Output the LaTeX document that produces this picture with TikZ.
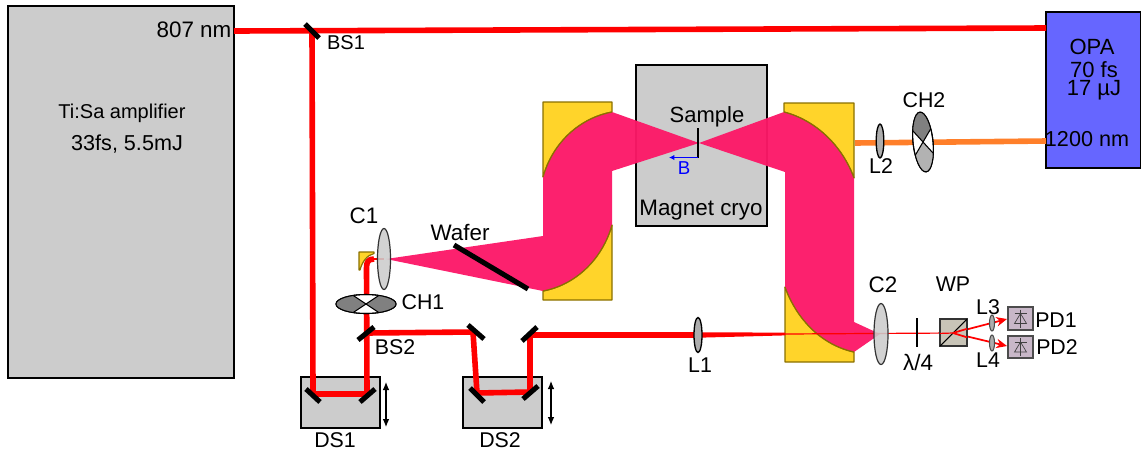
\documentclass[tikz,border=0pt]{standalone}
\usepackage{fontspec}
\setmainfont{Liberation Sans}
\usetikzlibrary{arrows.meta}
\definecolor{pinkb}{HTML}{FC1868}
\definecolor{goldm}{HTML}{FFD42A}
\definecolor{goldb}{HTML}{8A7000}
\definecolor{boxg}{HTML}{CCCCCC}
\definecolor{opab}{HTML}{6666FF}
\definecolor{beamo}{HTML}{FF7F2A}
\definecolor{pdf}{HTML}{C8B7C8}
\definecolor{wpf}{HTML}{C8C4B7}
\tikzset{
  x=0.75pt,y=-0.75pt,
  lbl/.style={font=\fontsize{16}{18}\selectfont,inner sep=0pt,text=black},
  lblb/.style={font=\fontsize{16.8}{18}\selectfont,inner sep=0pt,text=black},
  panel/.style={draw=black,line width=1.2pt,fill=boxg},
  redbeam/.style={draw=red,line width=4.2pt,line join=round},
  thinbeam/.style={draw=red,line width=1.3pt},
  mirrorbar/.style={draw=black,line width=3.8pt},
  parab/.style={draw=goldb,line width=0.9pt,fill=goldm,line join=round},
  lensg/.style={draw=black!80,line width=0.9pt,fill=boxg,fill opacity=.88},
  lenss/.style={draw=black,line width=1pt,fill=black!32},
  pinkfill/.style={fill=pinkb,fill opacity=.96},
  sensor/.style={draw=black!70,line width=1.3pt,fill=pdf},
  stagearrow/.style={draw=black,line width=0.8pt,{Latex[length=6pt,width=5pt]}-{Latex[length=6pt,width=5pt]}},
}
\begin{document}
\begin{tikzpicture}
\useasboundingbox (0,0) rectangle (1141,455);
% main boxes
\draw[panel] (8,6) rectangle (234,378);
\draw[panel] (636,65) rectangle (767,226);
\draw[panel] (301,377) rectangle (380,428);
\draw[panel] (463,377) rectangle (542,428);
\draw[panel,fill=opab] (1046,12) rectangle (1141,168);
\node[coordinate] (ampout) at (234,31) {};
\node[coordinate] (opain) at (1046,28) {};
\node[coordinate] (opaout) at (1046,141) {};
\node[coordinate] (bsone) at (312,31) {};
\node[coordinate] (dsoneL) at (313,394) {};
\node[coordinate] (dsoneR) at (367,394) {};
\node[coordinate] (bstwo) at (366,333) {};
\node[coordinate] (mA) at (473,332) {};
\node[coordinate] (dstwoL) at (477,393) {};
\node[coordinate] (dstwoR) at (530,392) {};
\node[coordinate] (mB) at (530,335) {};
\node[coordinate] (lone) at (698,335) {};
\node[coordinate] (cone) at (384,259) {};
\node[coordinate] (cube) at (953,333) {};
% parabolic mirrors
\draw[parab] (543,102) -- (612,102) -- (612,112) .. controls (580,118) and (553,142) .. (543,177) -- cycle;
\draw[parab] (612,225) -- (612,300) -- (543,300) -- (543,291) .. controls (575,285) and (602,260) .. (612,225) -- cycle;
\draw[parab] (784,103) -- (854,103) -- (854,178) .. controls (842,145) and (815,120) .. (784,112) -- cycle;
\draw[parab] (785,287) .. controls (797,320) and (822,345) .. (854,352) -- (854,362) -- (785,362) -- cycle;
% beams
\draw[redbeam] (ampout) -- (opain);
\draw[redbeam] (bsone) -- (dsoneL) -- (dsoneR) -- (366.5,268) .. controls (366.5,262) and (368,259) .. (374,259);
\draw[redbeam] (bstwo) -- (mA) -- (dstwoL) -- (dstwoR) -- (mB) -- (lone);
\fill[red] (698,332.3) -- (785,332.6) -- (785,335.4) -- (698,337.7) -- cycle;
\draw[draw=red,line width=1.3pt] (374,259) -- (cone);
\draw[draw=beamo,line width=4.2pt] (855,143) -- (opaout);
% small collimating mirror
\draw[parab] (359,252) -- (374,252) -- (374,253.5) .. controls (367,255) and (362,262) .. (360,270) -- (359,270) -- cycle;
% pink THz beam
\path[pinkfill] (386,259) -- (543,236) -- (543,177) .. controls (553,142) and (580,118) .. (612,112)
  -- (699,143) -- (612,171) -- (612,225) .. controls (602,260) and (575,285) .. (543,291) -- cycle;
\path[pinkfill] (699,143) -- (784,112) .. controls (815,120) and (842,145) .. (854,178)
  -- (854,322) -- (880,334) -- (854,352) .. controls (822,345) and (797,320) .. (785,287) -- (785,172) -- cycle;
% mirror arcs on top of the pink edge
\draw[goldb,line width=0.9pt] (543,177) .. controls (553,142) and (580,118) .. (612,112);
\draw[goldb,line width=0.9pt] (612,225) .. controls (602,260) and (575,285) .. (543,291);
\draw[goldb,line width=0.9pt] (784,112) .. controls (815,120) and (842,145) .. (854,178);
\draw[goldb,line width=0.9pt] (854,352) .. controls (822,345) and (797,320) .. (785,287);
% thin beam to the detector
\draw[thinbeam,line width=0.9pt] (785,334) -- (cube);
\draw[thinbeam,-{Stealth[length=8pt,width=7pt]}] (cube) -- (1007,319);
\draw[thinbeam,-{Stealth[length=8pt,width=7pt]}] (cube) -- (1007,346);
% mirrors
\draw[mirrorbar] (305,24) -- (319,38);
\draw[mirrorbar] (306,389) -- (320,402);
\draw[mirrorbar] (360,402) -- (375,389);
\draw[mirrorbar] (358,340) -- (374,327);
\draw[mirrorbar] (468,325) -- (484,339);
\draw[mirrorbar] (470,388) -- (484,402);
\draw[mirrorbar] (523,399) -- (538,386);
\draw[mirrorbar] (522,341) -- (537,327);
\draw[mirrorbar] (454,245) -- (528,289);
% stage arrows
\draw[stagearrow] (386,382) -- (386,427);
\draw[stagearrow] (551,381) -- (551,425);
% lenses
\draw[lensg] (384,259) ellipse (6.5 and 30.5);
\draw[lenss] (698,335) ellipse (4 and 17.5);
\draw[lenss] (880,141) ellipse (3.8 and 17);
\draw[lensg] (881,334) ellipse (7 and 30.5);
\draw[lenss,draw=black!70,line width=0.8pt] (992,323) ellipse (2.5 and 8);
\draw[lenss,draw=black!70,line width=0.8pt] (992,343) ellipse (2.5 and 8);
% chopper 1
\begin{scope}[shift={(366,304)}]
\draw[line width=0.8pt,fill=white] (0,0) ellipse (30 and 9.5);
\begin{scope}
\clip (0,0) ellipse (30 and 9.5);
\fill[black!50] (0,0) -- (-15,-10) -- (-32,-10) -- (-32,10) -- (-15,10) -- cycle;
\fill[black!50] (0,0) -- (15,-10) -- (32,-10) -- (32,10) -- (15,10) -- cycle;
\draw[line width=0.8pt] (-15,-10) -- (15,10) (-15,10) -- (15,-10);
\end{scope}
\draw[line width=0.8pt] (0,0) ellipse (30 and 9.5);
\end{scope}
% chopper 2
\begin{scope}[shift={(923,142)},rotate=6]
\draw[line width=0.8pt,fill=white] (0,0) ellipse (10 and 30);
\begin{scope}
\clip (0,0) ellipse (10 and 30);
\fill[black!50] (0,0) -- (-11,-15) -- (-11,-32) -- (11,-32) -- (11,-15) -- cycle;
\fill[black!30] (0,0) -- (-11,15) -- (-11,32) -- (11,32) -- (11,15) -- cycle;
\draw[line width=0.8pt] (-11,-15) -- (11,15) (-11,15) -- (11,-15);
\end{scope}
\draw[line width=0.8pt] (0,0) ellipse (10 and 30);
\end{scope}
% wave plate and Wollaston
\draw[black,line width=1pt] (917,318) -- (917,347);
\draw[draw=black!80,line width=1.3pt,fill=wpf] (940,319) rectangle (967,346);
\draw[black,line width=0.8pt] (940,346) -- (967,319);
\draw[thinbeam,line width=0.9pt] (940,333.4) -- (cube);
\draw[thinbeam] (cube) -- (967,328.8);
\draw[thinbeam] (cube) -- (967,337.3);
% photodiodes
\draw[sensor] (1008,307) rectangle (1033,330);
\draw[sensor] (1008,336) rectangle (1033,358);
\foreach \yc in {318.5,347}{
  \draw[black!75,line width=0.5pt] (1020.5,\yc-9) -- (1020.5,\yc+9);
  \draw[black!75,line width=0.5pt] (1014.5,\yc+5) -- (1026.5,\yc+5) -- (1020.5,\yc-5) -- cycle;
  \draw[black!75,line width=0.5pt] (1014.5,\yc-5) -- (1026.5,\yc-5);
}
% sample
\draw[black,line width=1pt] (698,128) -- (698,158);
\draw[blue,line width=0.8pt,-{Latex[length=4pt,width=4pt]}] (698,157.5) -- (669,157.5);
% labels
\node[lblb] (t807) at (194,30) {807 nm};
\node[lbl,font=\fontsize{15}{17}\selectfont] (tamp) at (122,113) {Ti:Sa amplifier};
\node[lbl,font=\fontsize{16.2}{17}\selectfont] (tfs) at (127,144) {33fs, 5.5mJ};
\node[lbl,font=\fontsize{15}{17}\selectfont] (tbs1) at (346,43) {BS1};
\node[lbl] (tbs2) at (395,347) {BS2};
\node[lbl] (tds1) at (335,440) {DS1};
\node[lbl] (tds2) at (500,440) {DS2};
\node[lbl] (tch1) at (423,302) {CH1};
\node[lblb] (tc1) at (364,216) {C1};
\node[lblb] (twaf) at (460,232) {Wafer};
\node[lbl,font=\fontsize{16.5}{18}\selectfont] (tsam) at (707,117) {Sample};
\node[lblb] (tmag) at (701,210) {Magnet cryo};
\node[lbl,text=blue,font=\fontsize{14}{15}\selectfont] (tb) at (684,168) {B};
\node[lbl] (tl1) at (700,365) {L1};
\node[lbl] (tl2) at (881,166) {L2};
\node[lbl] (tch2) at (924,100) {CH2};
\node[lblb] (tc2) at (883,285) {C2};
\node[lbl] (twp) at (953,284) {WP};
\node[lblb] (tlam) at (918,362) {λ/4};
\node[lbl] (tl3) at (988,307) {L3};
\node[lbl] (tl4) at (988,360) {L4};
\node[lbl] (tpd1) at (1056,320) {PD1};
\node[lbl] (tpd2) at (1057,347) {PD2};
\node[lbl,font=\fontsize{16.5}{18}\selectfont] (topa) at (1092,47) {OPA};
\node[lbl,font=\fontsize{16.5}{13.9}\selectfont,align=center] (t70) at (1094,81) {70 fs\\17 µJ};
\node[lbl,font=\fontsize{16.2}{18}\selectfont] (t1200) at (1087,139) {1200 nm};
\end{tikzpicture}
\end{document}
